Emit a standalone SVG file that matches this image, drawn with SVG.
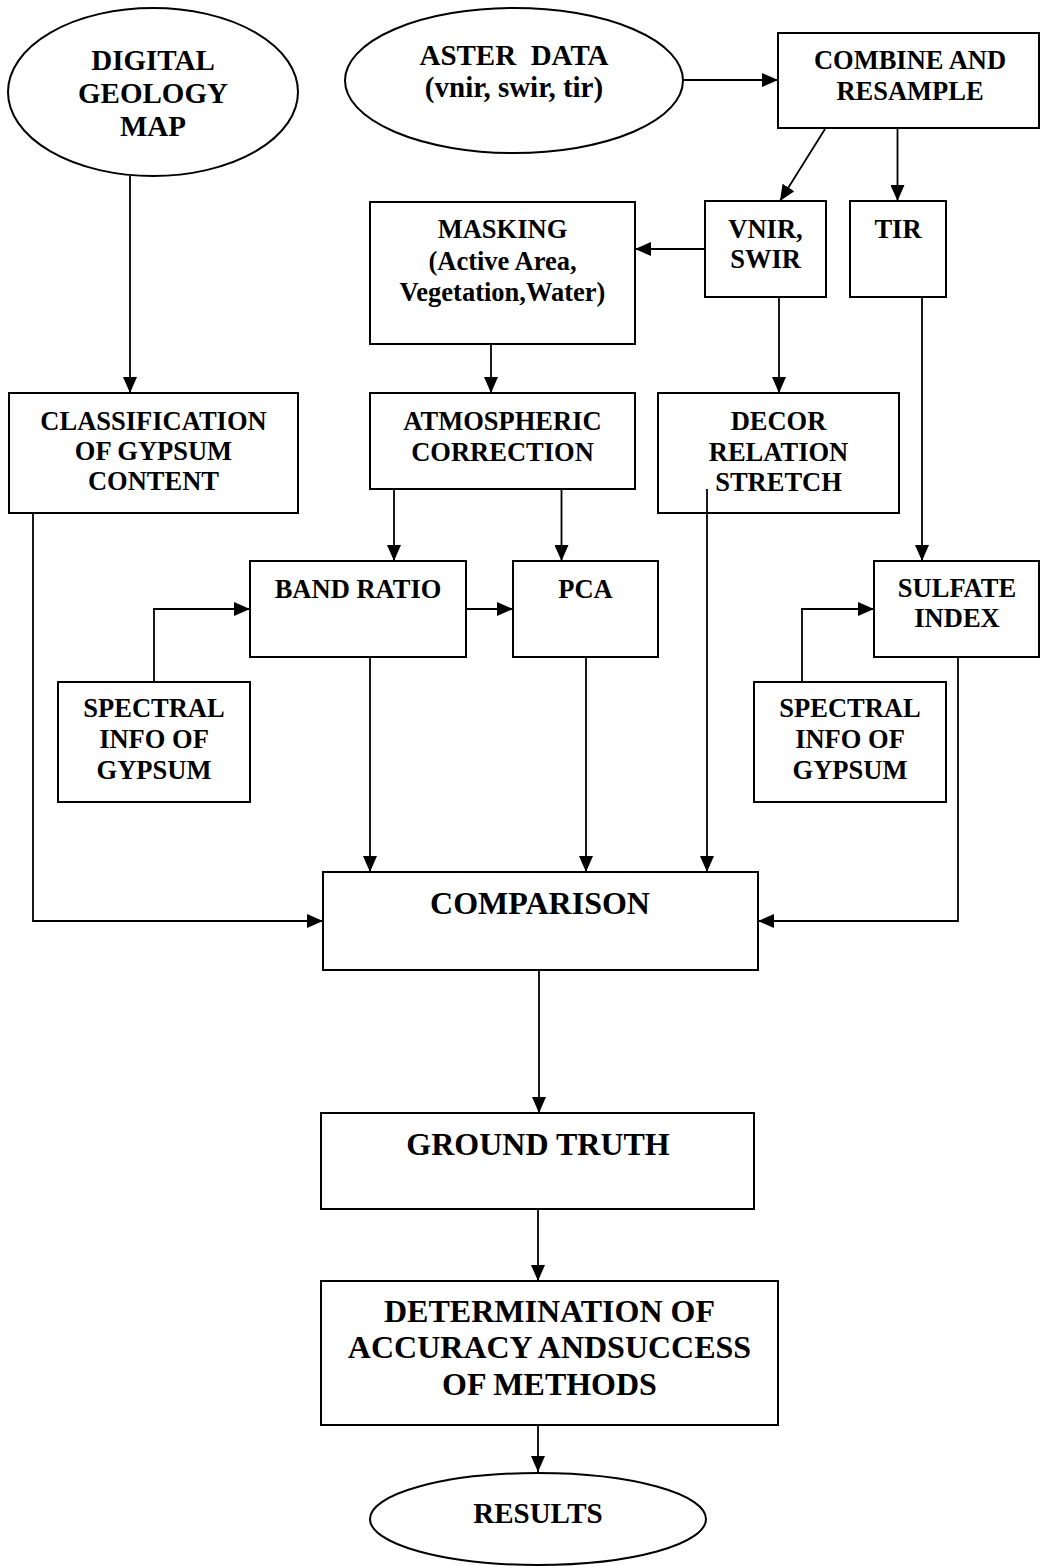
<svg xmlns="http://www.w3.org/2000/svg" width="1040" height="1566" viewBox="0 0 1040 1566">
<style>
.box{fill:#fff;stroke:#000;stroke-width:2}
.t{font-family:"Liberation Serif","Times New Roman",serif;font-weight:bold;font-size:26.5px;text-anchor:middle;fill:#000}
.e{font-size:29px}
.b{font-size:32px}
.c{fill:none;stroke:#000;stroke-width:1.8}
</style>
<defs>
<marker id="ah" markerUnits="userSpaceOnUse" markerWidth="16" markerHeight="14" refX="16" refY="7" orient="auto">
<path d="M0,0 L16,7 L0,14 z" fill="#000"/>
</marker>
</defs>
<rect width="1040" height="1566" fill="#fff"/>
<g id="digital-geology-map">
<ellipse class="box" cx="153" cy="92" rx="145" ry="84"/>
<text class="t e" x="153" y="70">DIGITAL</text>
<text class="t e" x="153" y="103">GEOLOGY</text>
<text class="t e" x="153" y="136">MAP</text>
</g>
<g id="aster-data">
<ellipse class="box" cx="514" cy="80.5" rx="169" ry="72.5"/>
<text class="t e" x="514" y="65" xml:space="preserve">ASTER  DATA</text>
<text class="t e" x="514" y="97">(vnir, swir, tir)</text>
</g>
<g id="combine">
<rect class="box" x="778" y="33" width="261" height="95"/>
<text class="t" x="910" y="69">COMBINE AND</text>
<text class="t" x="910" y="100">RESAMPLE</text>
</g>
<g id="masking">
<rect class="box" x="370" y="202" width="265" height="142"/>
<text class="t" x="502.5" y="238">MASKING</text>
<text class="t" x="502.5" y="270">(Active Area,</text>
<text class="t" x="502.5" y="301">Vegetation,Water)</text>
</g>
<g id="vnir-swir">
<rect class="box" x="705" y="201" width="121" height="96"/>
<text class="t" x="765.5" y="238">VNIR,</text>
<text class="t" x="765.5" y="268">SWIR</text>
</g>
<g id="tir">
<rect class="box" x="850" y="201" width="96" height="96"/>
<text class="t" x="898" y="238">TIR</text>
</g>
<g id="classification">
<rect class="box" x="9" y="393" width="289" height="120"/>
<text class="t" x="153.5" y="430">CLASSIFICATION</text>
<text class="t" x="153.5" y="460">OF GYPSUM</text>
<text class="t" x="153.5" y="490">CONTENT</text>
</g>
<g id="atmospheric-correction">
<rect class="box" x="370" y="393" width="265" height="96"/>
<text class="t" x="502.5" y="430">ATMOSPHERIC</text>
<text class="t" x="502.5" y="461">CORRECTION</text>
</g>
<g id="decorrelation-stretch">
<rect class="box" x="658" y="393" width="241" height="120"/>
<text class="t" x="778.5" y="430">DECOR</text>
<text class="t" x="778.5" y="461">RELATION</text>
<text class="t" x="778.5" y="491">STRETCH</text>
</g>
<g id="band-ratio">
<rect class="box" x="250" y="561" width="216" height="96"/>
<text class="t" x="358" y="598">BAND RATIO</text>
</g>
<g id="pca">
<rect class="box" x="513" y="561" width="145" height="96"/>
<text class="t" x="585.5" y="598">PCA</text>
</g>
<g id="sulfate-index">
<rect class="box" x="874" y="561" width="165" height="96"/>
<text class="t" x="957" y="597">SULFATE</text>
<text class="t" x="957" y="627">INDEX</text>
</g>
<g id="spectral-info-left">
<rect class="box" x="58" y="682" width="192" height="120"/>
<text class="t" x="154" y="717">SPECTRAL</text>
<text class="t" x="154" y="748">INFO OF</text>
<text class="t" x="154" y="779">GYPSUM</text>
</g>
<g id="spectral-info-right">
<rect class="box" x="754" y="682" width="192" height="120"/>
<text class="t" x="850" y="717">SPECTRAL</text>
<text class="t" x="850" y="748">INFO OF</text>
<text class="t" x="850" y="779">GYPSUM</text>
</g>
<g id="comparison">
<rect class="box" x="323" y="872" width="435" height="98"/>
<text class="t b" x="540" y="914">COMPARISON</text>
</g>
<g id="ground-truth">
<rect class="box" x="321" y="1113" width="433" height="96"/>
<text class="t b" x="538" y="1155">GROUND TRUTH</text>
</g>
<g id="determination">
<rect class="box" x="321" y="1281" width="457" height="144"/>
<text class="t b" x="549.5" y="1322">DETERMINATION OF</text>
<text class="t b" x="549.5" y="1358">ACCURACY ANDSUCCESS</text>
<text class="t b" x="549.5" y="1395">OF METHODS</text>
</g>
<g id="results">
<ellipse class="box" cx="538" cy="1519" rx="168" ry="46"/>
<text class="t e" x="538" y="1523">RESULTS</text>
</g>
<g id="connectors">
<line class="c" x1="130" y1="176" x2="130" y2="393" marker-end="url(#ah)"/>
<line class="c" x1="683" y1="80" x2="778" y2="80" marker-end="url(#ah)"/>
<line class="c" x1="825" y1="129" x2="780" y2="201" marker-end="url(#ah)"/>
<line class="c" x1="897.5" y1="129" x2="897.5" y2="201" marker-end="url(#ah)"/>
<line class="c" x1="705" y1="249" x2="635" y2="249" marker-end="url(#ah)"/>
<line class="c" x1="491" y1="344" x2="491" y2="393" marker-end="url(#ah)"/>
<line class="c" x1="779" y1="297" x2="779" y2="393" marker-end="url(#ah)"/>
<line class="c" x1="394" y1="489" x2="394" y2="561" marker-end="url(#ah)"/>
<line class="c" x1="561.5" y1="489" x2="561.5" y2="561" marker-end="url(#ah)"/>
<line class="c" x1="466" y1="609" x2="513" y2="609" marker-end="url(#ah)"/>
<polyline class="c" points="154,682 154,609 250,609" marker-end="url(#ah)"/>
<polyline class="c" points="922,297 922,561" marker-end="url(#ah)"/>
<polyline class="c" points="802,682 802,609 874,609" marker-end="url(#ah)"/>
<polyline class="c" points="33,513 33,921 323,921" marker-end="url(#ah)"/>
<line class="c" x1="370" y1="657" x2="370" y2="872" marker-end="url(#ah)"/>
<line class="c" x1="586" y1="657" x2="586" y2="872" marker-end="url(#ah)"/>
<line class="c" x1="707" y1="489" x2="707" y2="872" marker-end="url(#ah)"/>
<polyline class="c" points="958,657 958,921 758,921" marker-end="url(#ah)"/>
<line class="c" x1="539" y1="970" x2="539" y2="1113" marker-end="url(#ah)"/>
<line class="c" x1="538" y1="1209" x2="538" y2="1281" marker-end="url(#ah)"/>
<line class="c" x1="538" y1="1425" x2="538" y2="1472" marker-end="url(#ah)"/>
</g>
</svg>
